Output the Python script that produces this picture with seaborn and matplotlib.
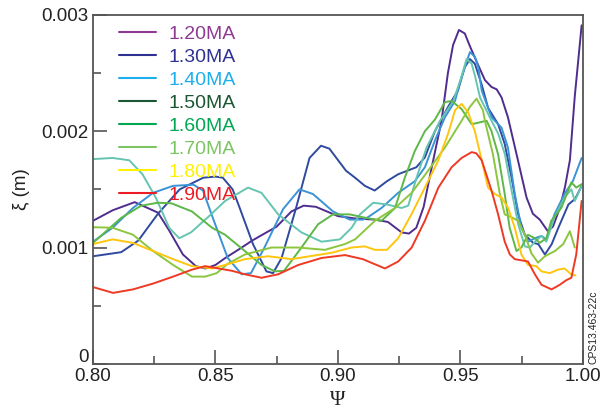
import pandas as pd
import matplotlib
matplotlib.use('Agg')
import matplotlib.pyplot as plt
import matplotlib.transforms as mtransforms
from matplotlib.lines import Line2D
from matplotlib.ticker import MultipleLocator, FixedLocator
import seaborn as sns

# curvas de deslocamento xi (em 1e-3 m) vs Psi, uma por corrente de plasma
currents = ['1.20MA', '1.30MA', '1.40MA', '1.50MA', '1.60MA', '1.70MA', '1.80MA', '1.90MA']

psi_120 = [0.800, 0.808, 0.817, 0.8265, 0.831, 0.8367, 0.842, 0.846, 0.850, 0.854, 0.860, 0.865,
           0.875, 0.881, 0.886, 0.891, 0.900, 0.907, 0.915, 0.9204, 0.926, 0.929, 0.932, 0.935,
           0.938, 0.9423, 0.9449, 0.947, 0.9494, 0.9518, 0.9539, 0.957, 0.960, 0.9627, 0.9648,
           0.9668, 0.9694, 0.9735, 0.977, 0.9796, 0.9824, 0.9857, 0.9878, 0.9906, 0.9927, 0.9947,
           0.9967, 0.9995]
xi_120 = [1.23, 1.32, 1.39, 1.30, 1.15, 0.94, 0.84, 0.82, 0.85, 0.91, 0.99, 1.06,
          1.18, 1.31, 1.36, 1.35, 1.27, 1.25, 1.24, 1.22, 1.13, 1.12, 1.17, 1.35,
          1.66, 2.09, 2.50, 2.74, 2.87, 2.84, 2.73, 2.58, 2.44, 2.38, 2.36,
          2.29, 2.12, 1.75, 1.43, 1.29, 1.24, 1.14, 1.18, 1.34, 1.52, 1.75,
          2.30, 2.91]

psi_130 = [0.800, 0.8115, 0.8185, 0.8265, 0.8354, 0.845, 0.850, 0.853, 0.857, 0.8599, 0.8653,
           0.8708, 0.8735, 0.877, 0.8829, 0.8884, 0.8931, 0.8965, 0.9033, 0.907, 0.911, 0.915,
           0.920, 0.9246, 0.932, 0.9355, 0.9396, 0.945, 0.949, 0.9518, 0.9539, 0.9559, 0.9587,
           0.9613, 0.9654, 0.9681, 0.9709, 0.9735, 0.9763, 0.9797, 0.9818, 0.9845, 0.9873,
           0.990, 0.9941, 0.9969, 0.9995]
xi_130 = [0.925, 0.96, 1.06, 1.29, 1.50, 1.60, 1.61, 1.60, 1.50, 1.34, 1.03,
          0.795, 0.78, 0.91, 1.34, 1.77, 1.875, 1.85, 1.66, 1.60, 1.53, 1.49,
          1.57, 1.63, 1.69, 1.775, 2.00, 2.21, 2.35, 2.55, 2.62, 2.58, 2.40,
          2.20, 2.06, 1.89, 1.60, 1.29, 1.11, 1.04, 1.03, 0.94, 1.03,
          1.17, 1.37, 1.42, 1.53]

psi_140 = [0.800, 0.808, 0.8163, 0.8245, 0.8327, 0.841, 0.8449, 0.849, 0.855, 0.8607, 0.8645,
           0.870, 0.8776, 0.8843, 0.8898, 0.898, 0.9048, 0.9102, 0.9122, 0.9178, 0.9246, 0.9314,
           0.9355, 0.9396, 0.9437, 0.9478, 0.9505, 0.9539, 0.9559, 0.9573, 0.9587, 0.9627,
           0.9668, 0.9694, 0.9722, 0.9749, 0.9776, 0.9804, 0.9831, 0.9851, 0.9884, 0.9925,
           0.9959, 0.9995]
xi_140 = [1.05, 1.17, 1.34, 1.47, 1.53, 1.54, 1.49, 1.25, 0.91, 0.77, 0.78,
          1.00, 1.33, 1.50, 1.46, 1.31, 1.24, 1.24, 1.26, 1.34, 1.47, 1.57,
          1.69, 1.92, 2.12, 2.26, 2.47, 2.68, 2.64, 2.55, 2.35, 2.12,
          2.03, 1.86, 1.46, 1.17, 1.05, 1.08, 1.10, 1.07, 1.285, 1.46,
          1.57, 1.77]

psi_150 = [0.800, 0.808, 0.8148, 0.8202, 0.8256, 0.8311, 0.8352, 0.840, 0.8474, 0.8539, 0.8633,
           0.8688, 0.8756, 0.8851, 0.8933, 0.9008, 0.9056, 0.909, 0.9144, 0.920, 0.926, 0.9287,
           0.9321, 0.9362, 0.9417, 0.9471, 0.9505, 0.9525, 0.9546, 0.9559, 0.958, 0.9627,
           0.9654, 0.9682, 0.9709, 0.9736, 0.9763, 0.9784, 0.9804, 0.9831, 0.9851, 0.9884,
           0.9925, 0.9953, 0.9967, 0.9995]
xi_150 = [1.76, 1.77, 1.75, 1.63, 1.43, 1.17, 1.08, 1.13, 1.27, 1.40, 1.515,
          1.47, 1.285, 1.13, 1.05, 1.07, 1.17, 1.285, 1.385, 1.37, 1.34, 1.36,
          1.60, 1.86, 2.09, 2.26, 2.47, 2.62, 2.58, 2.48, 2.29, 2.09,
          1.98, 1.80, 1.49, 1.20, 1.01, 1.00, 1.05, 1.10, 1.05, 1.26,
          1.43, 1.50, 1.40, 1.53]

psi_160 = [0.800, 0.8115, 0.8197, 0.8265, 0.832, 0.8404, 0.8486, 0.8539, 0.862, 0.8688, 0.8743,
           0.878, 0.8851, 0.8919, 0.898, 0.9048, 0.9102, 0.9178, 0.9233, 0.9273, 0.9314, 0.9355,
           0.9396, 0.9437, 0.9464, 0.9505, 0.9546, 0.9587, 0.9607, 0.9627, 0.9654, 0.9681,
           0.9701, 0.9729, 0.9749, 0.9776, 0.9804, 0.9824, 0.9851, 0.9871, 0.9912, 0.9953,
           0.9973, 0.9995]
xi_160 = [1.04, 1.255, 1.36, 1.385, 1.38, 1.31, 1.17, 1.11, 0.97, 0.85, 0.795,
          0.80, 1.00, 1.20, 1.285, 1.285, 1.26, 1.23, 1.34, 1.60, 1.83, 2.00,
          2.10, 2.25, 2.26, 2.19, 2.06, 2.08, 2.09, 2.00, 1.80, 1.46,
          1.17, 0.97, 1.00, 1.11, 1.08, 1.04, 1.08, 1.23, 1.34, 1.56,
          1.515, 1.545]

psi_170 = [0.800, 0.808, 0.8163, 0.8245, 0.8327, 0.8404, 0.8458, 0.8505, 0.855, 0.862, 0.8729,
           0.8838, 0.8947, 0.9029, 0.907, 0.9151, 0.9233, 0.9301, 0.9368, 0.9437, 0.9505,
           0.9539, 0.9566, 0.9592, 0.960, 0.9633, 0.9661, 0.9681, 0.9709, 0.9736, 0.9763,
           0.979, 0.9817, 0.9845, 0.9886, 0.992, 0.9947, 0.9967]
xi_170 = [1.175, 1.17, 1.11, 0.97, 0.85, 0.75, 0.75, 0.78, 0.86, 0.94, 1.00,
          1.00, 0.98, 1.03, 1.07, 1.23, 1.34, 1.47, 1.66, 1.86, 2.09,
          2.21, 2.28, 2.18, 2.09, 1.80, 1.46, 1.285, 1.26, 1.23, 1.11,
          0.95, 0.87, 0.925, 0.97, 1.03, 1.14, 1.00]

psi_180 = [0.800, 0.808, 0.8163, 0.8245, 0.8327, 0.8404, 0.8486, 0.8539, 0.862, 0.8715, 0.881,
           0.890, 0.8974, 0.9056, 0.911, 0.9151, 0.920, 0.9246, 0.930, 0.9355, 0.941, 0.945,
           0.9478, 0.9505, 0.9532, 0.9559, 0.9587, 0.9613, 0.964, 0.9668, 0.9695, 0.9722,
           0.9749, 0.9776, 0.981, 0.9831, 0.9865, 0.9898, 0.9925, 0.9952, 0.997]
xi_180 = [1.03, 1.07, 1.04, 0.97, 0.90, 0.84, 0.82, 0.85, 0.90, 0.925, 0.90,
          0.93, 0.955, 1.00, 1.01, 0.98, 0.98, 1.08, 1.285, 1.515, 1.75, 1.98,
          2.18, 2.235, 2.16, 2.00, 1.75, 1.515, 1.46, 1.43, 1.34, 1.17,
          0.94, 0.85, 0.84, 0.795, 0.78, 0.81, 0.82, 0.77, 0.76]

psi_190 = [0.800, 0.8082, 0.8163, 0.8245, 0.8327, 0.8404, 0.8458, 0.8513, 0.8567, 0.862, 0.8688,
           0.8756, 0.8838, 0.8933, 0.9029, 0.9102, 0.9124, 0.9192, 0.9246, 0.9301, 0.9355,
           0.941, 0.9464, 0.9505, 0.9546, 0.9565, 0.9587, 0.9627, 0.9654, 0.9681, 0.9702,
           0.9722, 0.9749, 0.9776, 0.9804, 0.9831, 0.9872, 0.9906, 0.9933, 0.9953, 0.9973,
           0.9995]
xi_190 = [0.66, 0.61, 0.64, 0.69, 0.75, 0.81, 0.84, 0.82, 0.80, 0.77, 0.74,
          0.77, 0.85, 0.91, 0.935, 0.90, 0.88, 0.82, 0.88, 1.00, 1.23,
          1.515, 1.69, 1.77, 1.82, 1.81, 1.75, 1.49, 1.285, 1.05, 0.94,
          0.90, 0.89, 0.88, 0.77, 0.68, 0.64, 0.68, 0.72, 0.74, 0.94,
          1.40]

# cores das curvas e cores da legenda (a figura original usa tons diferentes)
line_colors = ['#4f2d8f', '#2f4a9e', '#3a93d6', '#66c5b0', '#5db848', '#8cc63f', '#ffc50f', '#ee3a24']
legend_colors = ['#8e3a92', '#2e3192', '#1cafec', '#1a5632', '#00a651', '#7dc462', '#fff200', '#ed1c24']

series = [(psi_120, xi_120), (psi_130, xi_130), (psi_140, xi_140), (psi_150, xi_150),
          (psi_160, xi_160), (psi_170, xi_170), (psi_180, xi_180), (psi_190, xi_190)]

frames = []
for nome, (p, x) in zip(currents, series):
    frames.append(pd.DataFrame({'psi': p, 'xi': [v * 1e-3 for v in x], 'corrente': nome}))
df = pd.concat(frames, ignore_index=True)

sns.set_style('white')
plt.rcParams['font.family'] = ['Liberation Sans', 'DejaVu Sans']

fig = plt.figure(figsize=(6.04, 4.13), dpi=100)
ax = fig.add_axes([0.154, 0.119, 0.811, 0.845])

sns.lineplot(data=df, x='psi', y='xi', hue='corrente', palette=dict(zip(currents, line_colors)),
             estimator=None, sort=False, linewidth=1.4, legend=False, ax=ax)

ax.set_xlim(0.80, 1.00)
ax.set_ylim(0, 0.003)
ax.xaxis.set_major_locator(FixedLocator([0.80, 0.85, 0.90, 0.95, 1.00]))
ax.set_xticklabels(['0.80', '0.85', '0.90', '0.95', '1.00'])
ax.xaxis.set_minor_locator(MultipleLocator(0.025))
ax.yaxis.set_major_locator(FixedLocator([0, 0.001, 0.002, 0.003]))
ax.set_yticklabels(['0', '0.001', '0.002', '0.003'])
ax.yaxis.set_minor_locator(MultipleLocator(0.0005))

for s in ax.spines.values():
    s.set_color('#555555')
    s.set_linewidth(1.3)
ax.tick_params(which='both', direction='in', color='#555555', width=1.2,
               labelsize=13.5, labelcolor='#222222', top=False, right=False,
               bottom=True, left=True)
ax.tick_params(which='major', length=10, pad=3)
ax.tick_params(which='minor', length=6)

# o "0" do eixo y fica um pouco acima da linha do eixo, como no original
lbl0 = ax.get_yticklabels()[0]
lbl0.set_transform(lbl0.get_transform() + mtransforms.ScaledTranslation(0, 6 / 72, fig.dpi_scale_trans))

ax.set_xlabel('Ψ', fontsize=15, family=['Liberation Serif', 'DejaVu Serif'], color='#222222', labelpad=4)
ax.set_ylabel('ξ (m)', fontsize=13.5, color='#222222', labelpad=8)

handles = [Line2D([0], [0], color=c, lw=1.5) for c in legend_colors]
leg = ax.legend(handles, currents, loc='upper left', bbox_to_anchor=(0.034, 0.999),
                frameon=False, fontsize=14, handlelength=1.9, handletextpad=0.65,
                labelspacing=0.28, borderpad=0.0)
for t, c in zip(leg.get_texts(), legend_colors):
    t.set_color(c)

fig.text(0.982, 0.119, 'CPS13.463-22c', rotation=90, ha='center', va='bottom',
         fontsize=7.5, color='#222222')

fig.savefig('out.png', dpi=100)
